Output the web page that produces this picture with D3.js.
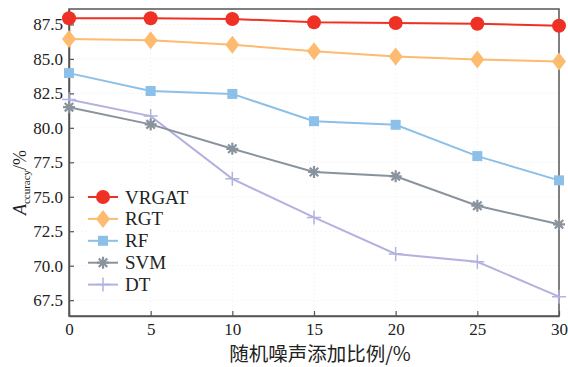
<!DOCTYPE html>
<html>
<head>
<meta charset="utf-8">
<script src="https://cdn.jsdelivr.net/npm/d3@7"></script>
<style>
  body { margin: 0; background: #fff; }
  text { font-family: "Liberation Serif", "Times New Roman", serif; }
</style>
</head>
<body>
<script>
// noise ratio (%) on x axis
var noise = [0, 5, 10, 15, 20, 25, 30];
var xTicks = [0, 5, 10, 15, 20, 25, 30];
var yTicks = [67.5, 70.0, 72.5, 75.0, 77.5, 80.0, 82.5, 85.0, 87.5];

// accuracy per model
var vrgat = [87.95, 87.95, 87.9, 87.65, 87.6, 87.55, 87.4];
var rgt   = [86.45, 86.35, 86.03, 85.55, 85.17, 84.95, 84.82];
var rf    = [83.97, 82.67, 82.46, 80.48, 80.22, 77.95, 76.19];
var svm   = [81.5, 80.25, 78.48, 76.8, 76.48, 74.35, 73.0];
var dt    = [82.05, 80.85, 76.3, 73.5, 70.85, 70.28, 67.75];

var names = ["VRGAT", "RGT", "RF", "SVM", "DT"];
var colors = ["#ee3124", "#fdbb70", "#8cc0e8", "#89939d", "#b3b1df"];
var allSeries = [vrgat, rgt, rf, svm, dt];

var svgWidth = 568, svgHeight = 367;
var margin = { top: 9, right: 9, bottom: 51, left: 69 };
var chartWidth = svgWidth - margin.left - margin.right;
var chartHeight = svgHeight - margin.top - margin.bottom;

var svg = d3.select("body").append("svg")
  .attr("width", svgWidth)
  .attr("height", svgHeight);

var chartGroup = svg.append("g")
  .attr("transform", `translate(${margin.left}, ${margin.top})`);

var xScale = d3.scaleLinear().domain([0, 30]).range([0, chartWidth]);
var yScale = d3.scaleLinear().domain([66.35, 88.62]).range([chartHeight, 0]);

// faint dotted grid
chartGroup.append("g").selectAll("line").data(yTicks).enter().append("line")
  .attr("x1", 0).attr("x2", chartWidth)
  .attr("y1", d => yScale(d)).attr("y2", d => yScale(d))
  .attr("stroke", "#e6e6e6").attr("stroke-width", 0.8)
  .attr("stroke-dasharray", "1,3");
chartGroup.append("g").selectAll("line").data(xTicks.slice(1, -1)).enter().append("line")
  .attr("x1", d => xScale(d)).attr("x2", d => xScale(d))
  .attr("y1", 0).attr("y2", chartHeight)
  .attr("stroke", "#e6e6e6").attr("stroke-width", 0.8)
  .attr("stroke-dasharray", "1,3");

// frame
chartGroup.append("rect")
  .attr("x", 0).attr("y", 0)
  .attr("width", chartWidth).attr("height", chartHeight)
  .attr("fill", "none").attr("stroke", "#555").attr("stroke-width", 1.5);

// axes with inward ticks
var bottomAxis = d3.axisBottom(xScale).tickValues(xTicks).tickSizeInner(-5).tickSizeOuter(0).tickPadding(7);
var leftAxis = d3.axisLeft(yScale).tickValues(yTicks).tickFormat(d3.format(".1f")).tickSizeInner(-5).tickSizeOuter(0).tickPadding(6);

var gx = chartGroup.append("g")
  .attr("transform", "translate(0, " + chartHeight + ")")
  .call(bottomAxis);
var gy = chartGroup.append("g").call(leftAxis);

[gx, gy].forEach(function (g) {
  g.attr("font-family", "Liberation Serif").attr("font-size", 17);
  g.select(".domain").attr("stroke", "#555").attr("stroke-width", 1.5);
  g.selectAll(".tick line").attr("stroke", "#555").attr("stroke-width", 1.2);
  g.selectAll(".tick text").attr("fill", "#222");
});

// marker drawing
var starPath = (function () {
  var p = "";
  for (var i = 0; i < 4; i++) {
    var a = i * Math.PI / 4;
    var dx = Math.cos(a) * 6, dy = Math.sin(a) * 6;
    p += "M" + (-dx) + "," + (-dy) + "L" + dx + "," + dy;
  }
  return p;
})();

function drawMarker(g, idx, cx, cy, color) {
  if (idx === 0) {
    g.append("circle").attr("cx", cx).attr("cy", cy).attr("r", 7).attr("fill", color);
  } else if (idx === 1) {
    g.append("path").attr("transform", `translate(${cx},${cy})`)
      .attr("d", "M0,-9L7,0L0,9L-7,0Z").attr("fill", color);
  } else if (idx === 2) {
    g.append("rect").attr("x", cx - 5).attr("y", cy - 5).attr("width", 10).attr("height", 10).attr("fill", color);
  } else if (idx === 3) {
    g.append("path").attr("transform", `translate(${cx},${cy})`)
      .attr("d", starPath).attr("stroke", color).attr("stroke-width", 2.2).attr("fill", "none");
  } else {
    g.append("path").attr("transform", `translate(${cx},${cy})`)
      .attr("d", "M-7,0L7,0M0,-7L0,7").attr("stroke", color).attr("stroke-width", 1.5).attr("fill", "none");
  }
}

var drawLine = d3.line()
  .x((d, i) => xScale(noise[i]))
  .y(d => yScale(d));

// draw bottom series first so VRGAT sits on top
for (var s = allSeries.length - 1; s >= 0; s--) {
  var g = chartGroup.append("g");
  g.append("path")
    .attr("d", drawLine(allSeries[s]))
    .attr("fill", "none")
    .attr("stroke", colors[s])
    .attr("stroke-width", 2);
  allSeries[s].forEach(function (v, i) {
    drawMarker(g, s, xScale(noise[i]), yScale(v), colors[s]);
  });
}

// legend
var legend = svg.append("g").attr("transform", "translate(88, 197)");
names.forEach(function (name, i) {
  var row = legend.append("g").attr("transform", `translate(0, ${i * 21.9})`);
  row.append("rect").attr("x", -2).attr("y", -10).attr("width", 80).attr("height", 20).attr("fill", "#fff");
  row.append("line").attr("x1", 0).attr("x2", 30).attr("y1", 0).attr("y2", 0)
    .attr("stroke", colors[i]).attr("stroke-width", 2);
  drawMarker(row, i, 15, 0, colors[i]);
  row.append("text").attr("x", 37).attr("y", 6.5)
    .style("font-size", "19px").attr("fill", "#222").text(name);
});

// x title
svg.append("text")
  .attr("x", margin.left + chartWidth / 2 + 6)
  .attr("y", 361)
  .attr("text-anchor", "middle")
  .style("font-family", "'Noto Sans CJK SC', serif")
  .style("font-size", "19.5px")
  .attr("fill", "#222")
  .text("随机噪声添加比例/%");

// y title
var yt = svg.append("text")
  .attr("transform", "translate(26, " + (margin.top + chartHeight / 2 + 20) + ") rotate(-90)")
  .attr("text-anchor", "middle")
  .style("font-size", "18px")
  .attr("fill", "#222");
yt.append("tspan").style("font-style", "italic").text("A");
yt.append("tspan").attr("dy", 4).style("font-size", "11px").text("ccuracy");
yt.append("tspan").attr("dy", -4).text("/%");
</script>
</body>
</html>
